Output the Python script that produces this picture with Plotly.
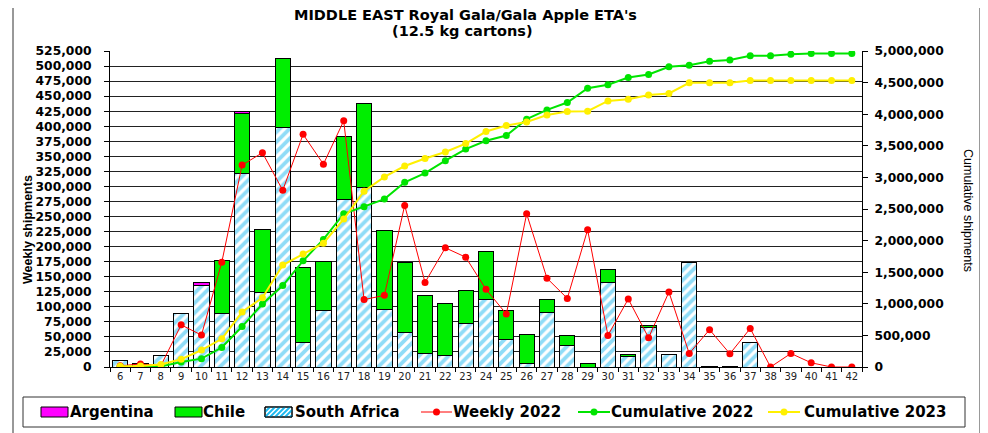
import plotly.graph_objects as go

weeks = ["6", "7", "8", "9", "10", "11", "12", "13", "14", "15", "16", "17", "18", "19",
         "20", "21", "22", "23", "24", "25", "26", "27", "28", "29", "30", "31", "32", "33",
         "34", "35", "36", "37", "38", "39", "40", "41", "42"]

south_africa = [10500, 6000, 19000, 89000, 135000, 89000, 322000, 124000, 398000, 40500,
                93500, 277500, 299000, 96000, 58000, 22700, 19400, 72000, 112400, 45000,
                5500, 91000, 36500, 0, 140500, 17000, 66000, 20000, 174000, 1000,
                1000, 41000, 0, 0, 0, 0, 0]

chile = [0, 0, 0, 0, 0, 88700, 99000, 105200, 115300, 125200,
         82600, 105200, 139000, 130600, 116300, 95300, 86400, 55900, 79800, 48800,
         49300, 20500, 15500, 6600, 21600, 4500, 2200, 0, 0, 0,
         0, 0, 0, 0, 0, 0, 0]

argentina = [0, 0, 0, 0, 6000, 0, 3500, 0, 0, 0,
             0, 0, 0, 0, 0, 0, 0, 0, 0, 0,
             0, 0, 0, 0, 0, 0, 0, 0, 0, 0,
             0, 0, 0, 0, 0, 0, 0]

weekly_2022 = [2000, 5000, 2000, 70000, 53000, 174000, 335500, 356000, 293500, 386500,
               337000, 409000, 112000, 119000, 268500, 140500, 198000, 182500, 129000, 88000,
               254500, 147500, 114000, 228000, 52500, 113000, 48500, 124500, 22500, 62000,
               22000, 64000, 0, 22500, 7000, 0, 0]

cumulative_2022 = [2000, 7000, 9000, 79000, 132000, 308000, 640000, 997000, 1288000, 1680000,
                   2018000, 2425000, 2537000, 2657000, 2922000, 3068000, 3264000, 3448000, 3579000, 3662000,
                   3922000, 4068000, 4185000, 4412000, 4465000, 4580000, 4628000, 4750000, 4776000, 4836000,
                   4857000, 4924000, 4924000, 4950000, 4960000, 4962000, 4962000]

cumulative_2023 = [10500, 17000, 40000, 123000, 268000, 447000, 870000, 1097000, 1613000, 1786000,
                   1960000, 2340000, 2782000, 3008000, 3180000, 3300000, 3402000, 3535000, 3726000, 3820000,
                   3878000, 3988000, 4042000, 4048000, 4210000, 4238000, 4302000, 4328000, 4497000, 4498000,
                   4498000, 4533000, 4533000, 4533000, 4533000, 4533000, 4533000]

left_ticks = list(range(0, 525001, 25000))
right_ticks = list(range(0, 5000001, 500000))

COL_SA = "#1FBAF0"
COL_CHILE = "#00EE00"
COL_ARG = "#FF00FF"
COL_W22 = "#FF0000"
COL_C22 = "#00E400"
COL_C23 = "#FFF000"

# page offset (the browser body margin) -- targets below are window pixels
OFF = 8
W, H = 988, 433
PLOT_L, PLOT_R, PLOT_T, PLOT_B = 110, 862, 51, 367
ML = PLOT_L - OFF
MT = PLOT_T - OFF
MR = W - (PLOT_R - OFF)
MB = H - (PLOT_B - OFF)
PW, PH = PLOT_R - PLOT_L, PLOT_B - PLOT_T


def px(x):
    return (x - PLOT_L) / PW


def py(y):
    return (PLOT_B - y) / PH


BOLD = dict(family="DejaVu Sans", weight="bold", color="black")

fig = go.Figure()
fig.add_trace(go.Bar(
    x=weeks, y=south_africa, name="South Africa",
    marker=dict(color="white", line=dict(color="black", width=1),
                pattern=dict(shape="/", fgcolor=COL_SA, bgcolor="white", size=7, solidity=0.55)),
))
fig.add_trace(go.Bar(
    x=weeks, y=chile, name="Chile",
    marker=dict(color=COL_CHILE, line=dict(color="black", width=1)),
))
fig.add_trace(go.Bar(
    x=weeks, y=argentina, name="Argentina",
    marker=dict(color=COL_ARG, line=dict(color="black", width=1)),
))
fig.add_trace(go.Scatter(
    x=weeks, y=weekly_2022, name="Weekly 2022", mode="lines+markers",
    line=dict(color=COL_W22, width=1), marker=dict(color=COL_W22, size=7),
))
fig.add_trace(go.Scatter(
    x=weeks, y=cumulative_2022, name="Cumulative 2022", mode="lines+markers",
    yaxis="y2", line=dict(color=COL_C22, width=2), marker=dict(color=COL_C22, size=7),
))
fig.add_trace(go.Scatter(
    x=weeks, y=cumulative_2023, name="Cumulative 2023", mode="lines+markers",
    yaxis="y2", line=dict(color=COL_C23, width=2), marker=dict(color=COL_C23, size=7),
))

shapes = [
    # outer frame
    dict(type="line", xref="paper", yref="paper", x0=px(13), x1=px(980), y0=py(4), y1=py(4),
         line=dict(color="#AAAAAA", width=1)),
    dict(type="line", xref="paper", yref="paper", x0=px(13), x1=px(13), y0=py(4), y1=py(445),
         line=dict(color="#333333", width=1)),
    dict(type="line", xref="paper", yref="paper", x0=px(980), x1=px(980), y0=py(4), y1=py(445),
         line=dict(color="#333333", width=1)),
    # legend box
    dict(type="rect", xref="paper", yref="paper", x0=px(23), x1=px(965), y0=py(397), y1=py(427),
         line=dict(color="#333333", width=1)),
]
annotations = []

# ---- custom legend ----
LEG_Y = 412
SW_H = 10
legend_font = dict(size=15, **BOLD)


def swatch(x0, color):
    shapes.append(dict(type="rect", xref="paper", yref="paper",
                       x0=px(x0), x1=px(x0 + 27), y0=py(LEG_Y + SW_H / 2), y1=py(LEG_Y - SW_H / 2),
                       fillcolor=color, line=dict(color="black", width=1)))


def hatch_swatch(x0):
    x1 = x0 + 27
    ytop, ybot = LEG_Y - SW_H / 2, LEG_Y + SW_H / 2
    shapes.append(dict(type="rect", xref="paper", yref="paper",
                       x0=px(x0), x1=px(x1), y0=py(ybot), y1=py(ytop),
                       fillcolor="white", line=dict(color="black", width=1)))
    c = -SW_H
    while c < (x1 - x0):
        s0 = max(0.0, -c)
        s1 = min(float(SW_H), (x1 - x0) - c)
        if s1 - s0 > 0.5:
            shapes.append(dict(type="line", xref="paper", yref="paper",
                               x0=px(x0 + c + s0), y0=py(ybot - s0),
                               x1=px(x0 + c + s1), y1=py(ybot - s1),
                               line=dict(color=COL_SA, width=2)))
        c += 5
    shapes.append(dict(type="rect", xref="paper", yref="paper",
                       x0=px(x0), x1=px(x1), y0=py(ybot), y1=py(ytop),
                       line=dict(color="black", width=1)))


def line_swatch(x0, x1, color, width):
    shapes.append(dict(type="line", xref="paper", yref="paper",
                       x0=px(x0), x1=px(x1), y0=py(LEG_Y), y1=py(LEG_Y),
                       line=dict(color=color, width=width)))
    cx = (x0 + x1) / 2
    shapes.append(dict(type="circle", xref="paper", yref="paper",
                       x0=px(cx - 3.5), x1=px(cx + 3.5), y0=py(LEG_Y + 3.5), y1=py(LEG_Y - 3.5),
                       fillcolor=color, line=dict(color=color, width=0)))


def legend_text(x, text):
    annotations.append(dict(text=text, xref="paper", yref="paper", x=px(x), y=py(LEG_Y),
                            xanchor="left", yanchor="middle", showarrow=False,
                            font=legend_font))


swatch(41, COL_ARG)
legend_text(68, "Argentina")
swatch(175, COL_CHILE)
legend_text(201, "Chile")
hatch_swatch(265)
legend_text(293, "South Africa")
line_swatch(421, 452, COL_W22, 1)
legend_text(451, "Weekly 2022")
line_swatch(578, 610, COL_C22, 2)
legend_text(609, "Cumulative 2022")
line_swatch(768, 800, COL_C23, 2)
legend_text(802, "Cumulative 2023")

annotations += [
    dict(text="MIDDLE EAST Royal Gala/Gala Apple ETA's", xref="paper", yref="paper",
         x=px(465), y=py(15), xanchor="center", yanchor="middle", showarrow=False,
         font=dict(size=14.5, **BOLD)),
    dict(text="(12.5 kg cartons)", xref="paper", yref="paper",
         x=px(462), y=py(31), xanchor="center", yanchor="middle", showarrow=False,
         font=dict(size=14.5, **BOLD)),
    dict(text="Weekly shipments", xref="paper", yref="paper", textangle=-90,
         x=px(28), y=py(230), xanchor="center", yanchor="middle", showarrow=False,
         font=dict(family="Liberation Sans", size=12.5, weight="bold", color="black")),
    dict(text="Cumulative shipments", xref="paper", yref="paper", textangle=90,
         x=px(968), y=py(210), xanchor="center", yanchor="middle", showarrow=False,
         font=dict(family="Liberation Sans", size=12.5, color="black")),
]

fig.update_layout(
    width=W, height=H,
    margin=dict(l=ML, r=MR, t=MT, b=MB, pad=0, autoexpand=False),
    barmode="stack", bargap=0.25,
    paper_bgcolor="white", plot_bgcolor="white",
    showlegend=False,
    xaxis=dict(type="category", categoryorder="array", categoryarray=weeks,
               range=[-0.5, len(weeks) - 0.5], showline=True, linecolor="black", linewidth=1,
               ticks="outside", tickson="boundaries", ticklen=4, tickcolor="black",
               tickangle=0, automargin=False,
               tickfont=dict(family="DejaVu Sans", size=10, color="#222222"), showgrid=False),
    yaxis=dict(range=[0, 525000], tickvals=left_ticks, tickformat=",", showline=True,
               linecolor="black", linewidth=1, ticks="outside", ticklen=5, tickcolor="black",
               showgrid=True, gridcolor="#222222", gridwidth=1, zeroline=False, automargin=False,
               tickfont=dict(size=12.3, **BOLD), ticklabelstandoff=10),
    yaxis2=dict(range=[0, 5000000], tickvals=right_ticks, tickformat=",", overlaying="y",
                side="right", showline=True, linecolor="black", linewidth=1, ticks="outside",
                ticklen=5, tickcolor="black", showgrid=False, zeroline=False, automargin=False,
                tickfont=dict(size=12.3, **BOLD), ticklabelstandoff=4),
    shapes=shapes,
    annotations=annotations,
)

fig.write_html("out.html")
